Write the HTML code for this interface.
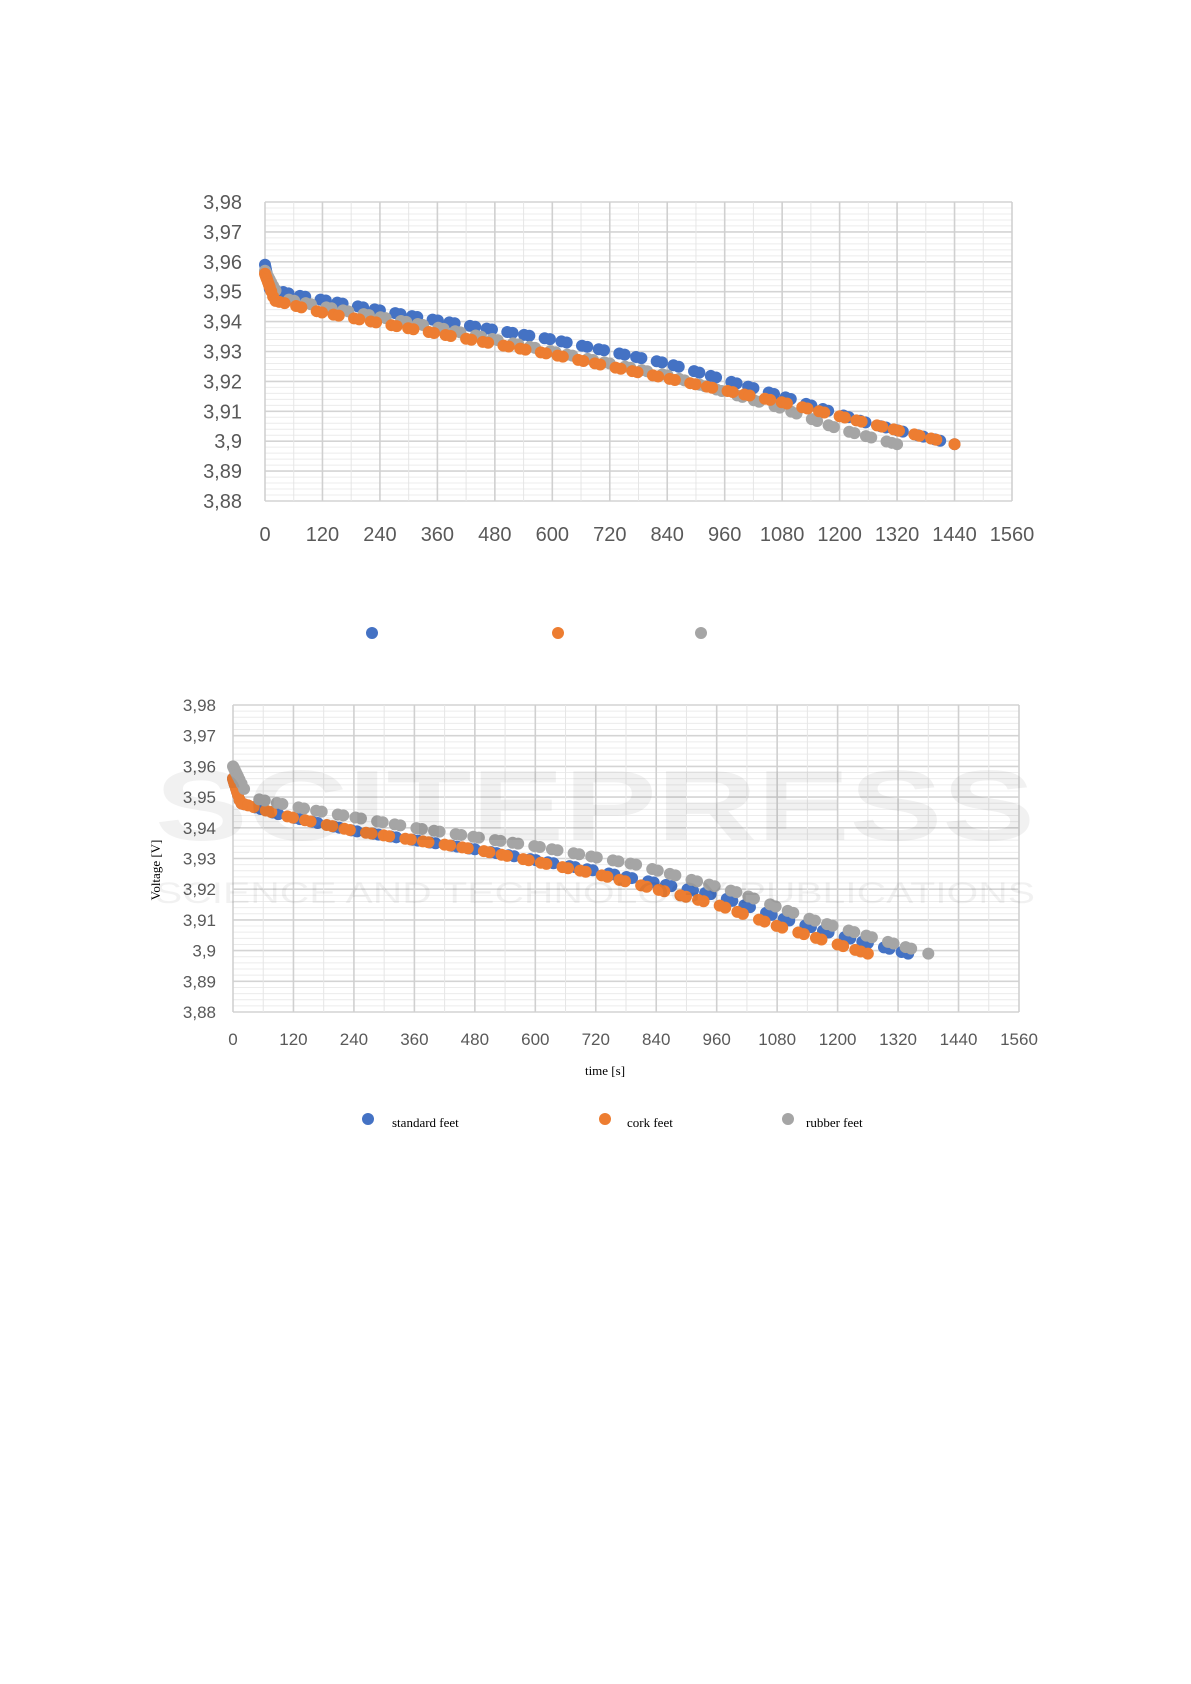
<!DOCTYPE html>
<html><head><meta charset="utf-8"><style>
body{margin:0;background:#fff;}
svg{display:block}
</style></head><body>
<svg id="s" width="1191" height="1684" xmlns="http://www.w3.org/2000/svg"></svg>
<script>
const s=document.getElementById('s');let h='';
function chart(L,R,T,B,yfs,xfs,yLabX,xLabY,r,series){
  const X=t=>L+(R-L)*t/1560, Y=v=>B-(B-T)*(v-3.88)/0.10;
  for(let i=0;i<=50;i++){const y=Y(3.88+i*0.002);h+=`<line x1="${L}" x2="${R}" y1="${y}" y2="${y}" stroke="${i%5?'#ececec':'#d4d4d4'}" stroke-width="${i%5?1:1.6}"/>`;}
  for(let i=0;i<=26;i++){const x=X(i*60);h+=`<line x1="${x}" x2="${x}" y1="${T}" y2="${B}" stroke="${i%2?'#e6e6e6':'#d0d0d0'}" stroke-width="${i%2?1:1.6}"/>`;}
  for(let i=0;i<=10;i++){const v=(3.88+i*0.01);let t=v.toFixed(2).replace('.',',');if(t.endsWith('0'))t=t.slice(0,-1);
    h+=`<text x="${yLabX}" y="${Y(v)+yfs*0.35}" text-anchor="end" font-family="Liberation Sans Narrow, Liberation Sans, sans-serif" font-size="${yfs}" fill="#595959">${t}</text>`;}
  for(let i=0;i<=13;i++){h+=`<text x="${X(i*120)}" y="${xLabY}" text-anchor="middle" font-family="Liberation Sans Narrow, Liberation Sans, sans-serif" font-size="${xfs}" fill="#595959">${i*120}</text>`;}
  series.forEach(([col,pts,off])=>{
    const f=tt=>{for(let k=0;k<pts.length-1;k++){if(tt<=pts[k+1][0]){const a=pts[k],b=pts[k+1];return a[1]+(b[1]-a[1])*(tt-a[0])/(b[0]-a[0]);}}return pts[pts.length-1][1];};
    const end=pts[pts.length-1][0];
    const ts=[0,1,2,3,4,6,8,10,13,17,22];let tt=30+off;let k=0;
    while(tt<end-8){ts.push(tt);tt+=(k%2==0?11:(k%4==1?24:32));k++;}ts.push(end);
    ts.forEach(q=>{h+=`<circle cx="${X(q)}" cy="${Y(f(q))}" r="${r}" fill="${col}"/>`;});
  });
}
const B1='#4472c4',O1='#ed7d31',G1='#a5a5a5';
chart(265,1012,202,501,20,20,242,541,6,[
 [B1,[[0,3.959],[10,3.951],[60,3.949],[300,3.942],[600,3.934],[840,3.926],[1080,3.915],[1260,3.906],[1440,3.899]],8],
 [G1,[[0,3.957],[30,3.948],[120,3.945],[360,3.938],[600,3.930],[840,3.922],[1080,3.911],[1200,3.904],[1320,3.899]],20],
 [O1,[[0,3.956],[20,3.947],[120,3.943],[360,3.936],[600,3.929],[840,3.921],[1080,3.913],[1260,3.906],[1440,3.899]],0]
]);
h+=`<circle cx="372" cy="633" r="6" fill="${B1}"/><circle cx="558" cy="633" r="6" fill="${O1}"/><circle cx="701" cy="633" r="6" fill="${G1}"/>`;
chart(233,1019,705,1012,17,17,216,1045,6,[
 [B1,[[0,3.956],[15,3.948],[100,3.944],[240,3.939],[480,3.933],[720,3.926],[960,3.918],[1080,3.911],[1200,3.905],[1340,3.899]],14],
 [O1,[[0,3.956],[15,3.948],[100,3.944],[240,3.939],[480,3.933],[720,3.925],[960,3.915],[1080,3.908],[1200,3.902],[1260,3.899]],0],
 [G1,[[0,3.960],[30,3.950],[150,3.946],[360,3.940],[600,3.934],[800,3.928],[1000,3.919],[1150,3.910],[1380,3.899]],22]
]);
h+=`<text x="605" y="1075" text-anchor="middle" font-family="Liberation Serif, serif" font-size="13">time [s]</text>`;
h+=`<text transform="translate(160,870) rotate(-90)" text-anchor="middle" font-family="Liberation Serif, serif" font-size="13">Voltage [V]</text>`;
[[368,'#4472c4','standard feet',392],[605,'#ed7d31','cork feet',627],[788,'#a5a5a5','rubber feet',806]].forEach(([cx,c,t,tx])=>{
 h+=`<circle cx="${cx}" cy="1119" r="6" fill="${c}"/><text x="${tx}" y="1127" font-family="Liberation Serif, serif" font-size="13">${t}</text>`;});
h+=`<text x="595" y="840" text-anchor="middle" font-family="Liberation Sans, sans-serif" font-weight="bold" font-size="100" fill="#000" opacity="0.05" textLength="880" lengthAdjust="spacingAndGlyphs">SCITEPRESS</text>`;
h+=`<text x="595" y="903" text-anchor="middle" font-family="Liberation Sans, sans-serif" font-size="30" fill="#000" opacity="0.05" textLength="880" lengthAdjust="spacingAndGlyphs">SCIENCE AND TECHNOLOGY PUBLICATIONS</text>`;
s.innerHTML=h;
</script>
</body></html>
